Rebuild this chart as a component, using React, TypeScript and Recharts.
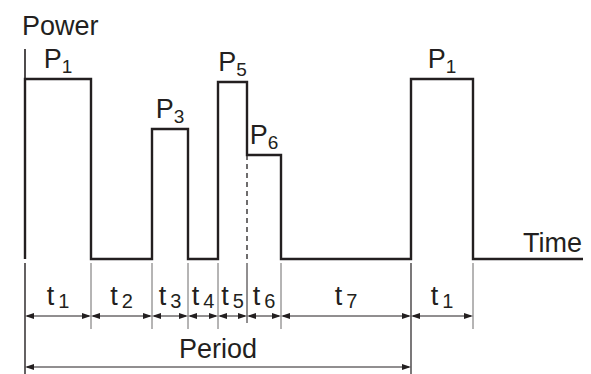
import React from "react";
import { ComposedChart, Line, XAxis, YAxis, ReferenceLine, Scatter } from "recharts";

// duty cycle segments, widths and power levels
const segmentSubs = ["1", "2", "3", "4", "5", "6", "7", "1"];
const segmentDurations = [66, 61, 36, 30, 29, 34, 130, 62];
const segmentPower = [180, 0, 130, 0, 177, 104, 0, 180];
const powerSubs = ["1", "", "3", "", "5", "6", "", "1"];
const periodSegments = 7;
const timeEnd = 558;
const powerAxisTop = 210;

const INK = "#231f20";
const FONT = "'Liberation Sans', Arial, Helvetica, sans-serif";

// layout levels (data units below the baseline)
const ARROW_Y = -57;
const PERIOD_Y = -108;
const TICK_BOTTOM = -70;
const BOTTOM = -115;

const bounds = segmentDurations.reduce<number[]>((acc, d) => [...acc, acc[acc.length - 1] + d], [0]);
const periodEnd = bounds[periodSegments];

const stepData = [
  { x: 0, y: 0 },
  ...segmentPower.map((p, i) => ({ x: bounds[i], y: p })),
  { x: bounds[bounds.length - 1], y: 0 },
  { x: timeEnd, y: 0 },
];

const powerLabelData = segmentPower
  .map((p, i) => ({ x: (bounds[i] + bounds[i + 1]) / 2, y: p, sub: powerSubs[i] }))
  .filter((d) => d.sub !== "");

const timeLabelData = segmentSubs.map((s, i) => ({
  x: (bounds[i] + bounds[i + 1]) / 2,
  y: ARROW_Y,
  sub: s,
}));

const titleData = [
  { x: -3, y: 224, text: "Power", anchor: "start" },
  { x: 557, y: 7, text: "Time", anchor: "end" },
  { x: periodEnd / 2, y: -99, text: "Period", anchor: "middle" },
];

const PowerLabel = (props: any) => {
  const { cx, cy, payload } = props;
  return (
    <text x={cx} y={cy - 11} textAnchor="middle" fontFamily={FONT} fontSize={27} fill={INK}>
      P
      <tspan fontSize={19} dy={5}>
        {payload.sub}
      </tspan>
    </text>
  );
};

const TimeLabel = (props: any) => {
  const { cx, cy, payload } = props;
  return (
    <text x={cx} y={cy - 11} textAnchor="middle" fontFamily={FONT} fontSize={27} fill={INK}>
      t
      <tspan fontSize={20} dx={4} dy={3}>
        {payload.sub}
      </tspan>
    </text>
  );
};

const TitleLabel = (props: any) => {
  const { cx, cy, payload } = props;
  return (
    <text x={cx} y={cy} textAnchor={payload.anchor} fontFamily={FONT} fontSize={27} fill={INK}>
      {payload.text}
    </text>
  );
};

const DoubleArrow = (props: any) => {
  const { x1, x2, y1 } = props;
  const a = Math.min(x1, x2);
  const b = Math.max(x1, x2);
  const y = y1;
  return (
    <g>
      <line x1={a + 2} y1={y} x2={b - 2} y2={y} stroke={INK} strokeWidth={1} />
      <polygon points={`${a},${y} ${a + 9},${y - 3} ${a + 9},${y + 3}`} fill={INK} />
      <polygon points={`${b},${y} ${b - 9},${y - 3} ${b - 9},${y + 3}`} fill={INK} />
    </g>
  );
};

export default function App() {
  return (
    <div style={{ position: "absolute", left: 0, top: 0, width: 591, height: 374, background: "#fff" }}>
      <ComposedChart width={591} height={374} margin={{ top: 0, right: 0, bottom: 0, left: 0 }}>
        <XAxis type="number" dataKey="x" domain={[-25, 566]} hide allowDataOverflow />
        <YAxis type="number" dataKey="y" domain={[BOTTOM, 259]} hide allowDataOverflow />

        {/* power axis */}
        <ReferenceLine
          segment={[{ x: 0, y: 0 }, { x: 0, y: powerAxisTop }]}
          stroke={INK}
          strokeWidth={1.6}
          ifOverflow="visible"
        />
        {/* long lines under the baseline */}
        <ReferenceLine
          segment={[{ x: 0, y: -4 }, { x: 0, y: BOTTOM }]}
          stroke={INK}
          strokeWidth={1.4}
          ifOverflow="visible"
        />
        <ReferenceLine
          segment={[{ x: periodEnd, y: -4 }, { x: periodEnd, y: BOTTOM }]}
          stroke={INK}
          strokeWidth={1.2}
          ifOverflow="visible"
        />
        {/* separators */}
        {bounds.slice(1).map((b, i) =>
          i + 1 === periodSegments ? null : (
            <ReferenceLine
              key={`sep-${i}`}
              segment={[{ x: b, y: -4 }, { x: b, y: TICK_BOTTOM + (i === 4 ? 6 : 0) }]}
              stroke={i === 4 ? INK : "#6d6b6b"}
              strokeWidth={1}
              ifOverflow="visible"
            />
          )
        )}
        {/* dashed step between P5 and P6 */}
        <ReferenceLine
          segment={[{ x: bounds[5], y: segmentPower[5] }, { x: bounds[5], y: 0 }]}
          stroke={INK}
          strokeWidth={1.3}
          strokeDasharray="5 4"
          ifOverflow="visible"
        />
        {/* duration arrows */}
        {segmentDurations.map((_, i) => (
          <ReferenceLine
            key={`arr-${i}`}
            segment={[{ x: bounds[i], y: ARROW_Y }, { x: bounds[i + 1], y: ARROW_Y }]}
            ifOverflow="visible"
            shape={(p: any) => <DoubleArrow {...p} />}
          />
        ))}
        <ReferenceLine
          segment={[{ x: 0, y: PERIOD_Y }, { x: periodEnd, y: PERIOD_Y }]}
          ifOverflow="visible"
          shape={(p: any) => <DoubleArrow {...p} />}
        />

        <Line
          data={stepData}
          dataKey="y"
          type="stepAfter"
          stroke={INK}
          strokeWidth={2.4}
          dot={false}
          activeDot={false}
          isAnimationActive={false}
        />

        <Scatter data={powerLabelData} dataKey="y" shape={<PowerLabel />} isAnimationActive={false} />
        <Scatter data={timeLabelData} dataKey="y" shape={<TimeLabel />} isAnimationActive={false} />
        <Scatter data={titleData} dataKey="y" shape={<TitleLabel />} isAnimationActive={false} />
      </ComposedChart>
    </div>
  );
}
